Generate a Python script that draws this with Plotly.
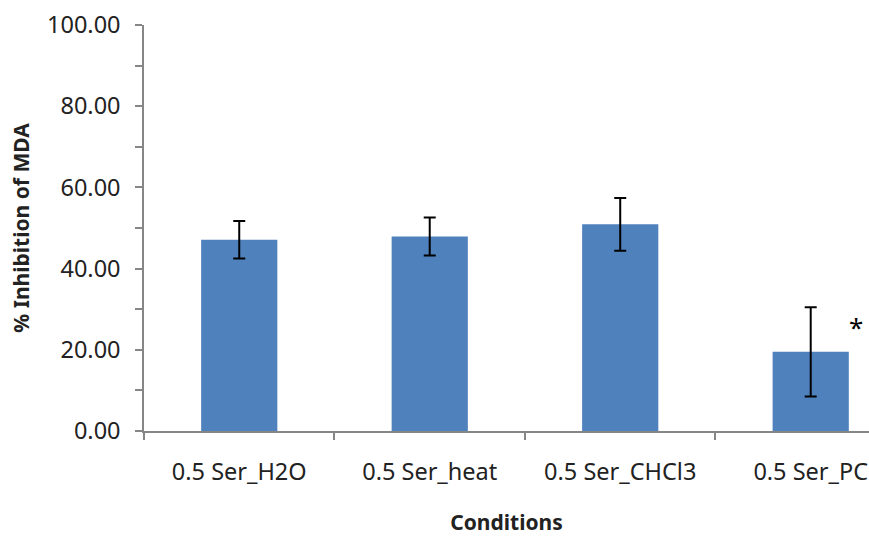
import plotly.graph_objects as go

categories = ["0.5 Ser_H2O", "0.5 Ser_heat", "0.5 Ser_CHCl3", "0.5 Ser_PC"]
values = [47.1, 47.9, 50.9, 19.5]
errors = [4.6, 4.7, 6.5, 11.0]
y_ticks = [0, 10, 20, 30, 40, 50, 60, 70, 80, 90, 100]
y_ticktext = ["0.00", "", "20.00", "", "40.00", "", "60.00", "", "80.00", "", "100.00"]

FONT = "Noto Sans"
GRAY = "#868686"
TEXT = "#222222"

fig = go.Figure()
fig.add_trace(go.Bar(
    x=categories, y=values, width=0.4,
    marker=dict(color="#4F81BD", line=dict(width=0)),
    error_y=dict(type="data", array=errors, visible=True, color="black", thickness=2, width=6),
))

fig.add_annotation(x=3.24, y=25.5, xref="x", yref="y", text="*", showarrow=False,
                   font=dict(family=FONT, size=26, color="black"))

fig.update_layout(
    width=869, height=536,
    margin=dict(l=144, r=0, t=25, b=105),
    plot_bgcolor="white", paper_bgcolor="white",
    showlegend=False,
    font=dict(family=FONT, color=TEXT),
    xaxis=dict(
        type="category", range=[-0.5, 3.306],
        showline=True, linecolor=GRAY, linewidth=1.5,
        ticks="outside", tickson="boundaries", ticklen=7, tickcolor=GRAY, tickwidth=1.5,
        tickfont=dict(size=23.5, family=FONT, color=TEXT),
        ticklabelstandoff=19,
        showgrid=False, zeroline=False,
        title=dict(text="<b>Conditions</b>", font=dict(size=21, family=FONT, color=TEXT), standoff=32),
    ),
    yaxis=dict(
        range=[0, 100], tickmode="array", tickvals=y_ticks, ticktext=y_ticktext,
        showline=True, linecolor=GRAY, linewidth=1.5,
        ticks="outside", ticklen=7, tickcolor=GRAY, tickwidth=1.5,
        tickfont=dict(size=23.5, family=FONT, color=TEXT),
        ticklabelstandoff=10,
        showgrid=False, zeroline=False,
        title=dict(text="<b>% Inhibition of MDA</b>", font=dict(size=21, family=FONT, color=TEXT), standoff=12),
    ),
)

fig.write_html("out.html")
